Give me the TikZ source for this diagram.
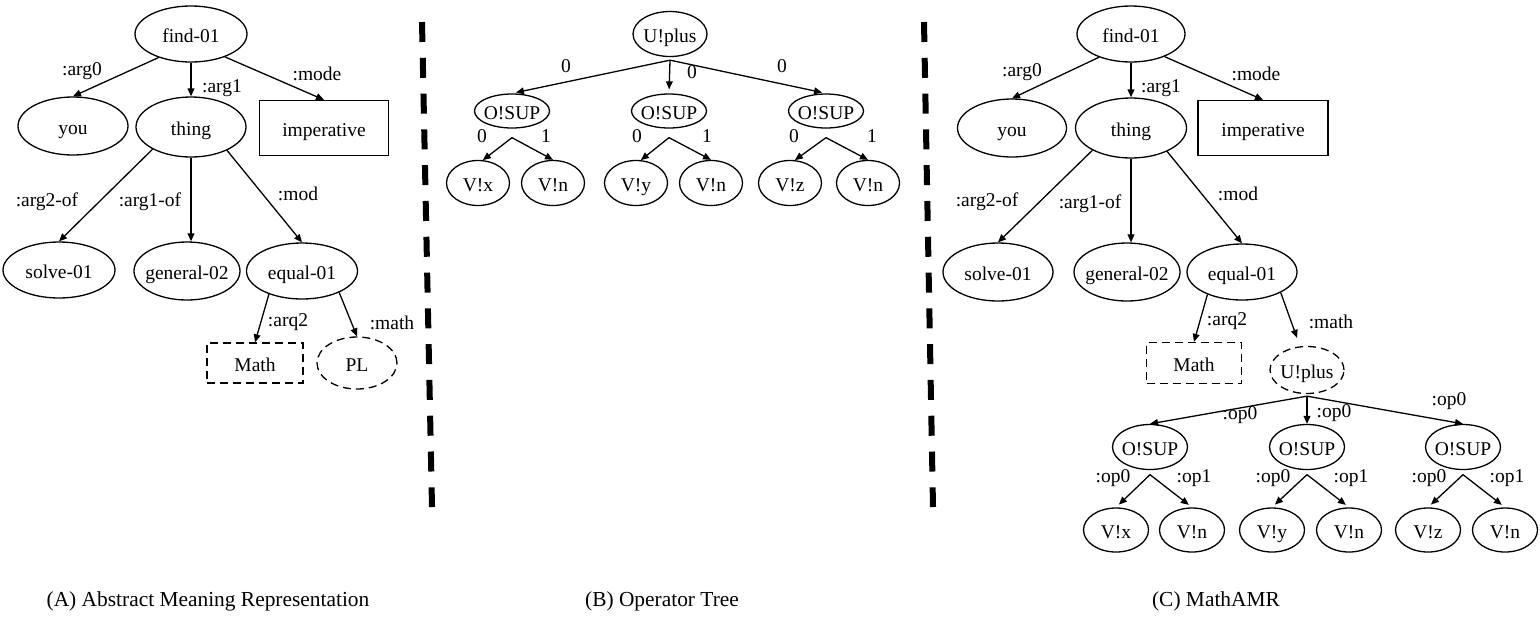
\documentclass[tikz,border=0pt]{standalone}
\usepackage{fontspec}
\setmainfont{Liberation Serif}
\usetikzlibrary{shapes.geometric,arrows.meta}
\newcommand{\ct}[1]{\makebox[0pt]{#1}}
\begin{document}
\begin{tikzpicture}[x=0.5pt,y=-0.5pt,
  every node/.style={font=\fontsize{9.75pt}{11pt}\selectfont},
  sz/.style 2 args={minimum width=#1*0.5pt, minimum height=#2*0.5pt},
  ell/.style={ellipse,draw,line width=0.65pt,inner sep=0pt,text height=8.4pt,text depth=0pt},
  rbox/.style={rectangle,draw,line width=0.65pt,inner sep=0pt,text height=8.4pt,text depth=0pt},
  dsh/.style={dash pattern=on 4pt off 2.5pt},
  lbl/.style={inner sep=0pt,text height=6.8pt,text depth=2pt},
  edge/.style={line width=0.65pt,-{Triangle[length=4pt,width=3.4pt]}},
  divider/.style={line width=3pt,dash pattern=on 10pt off 7.9pt},
  captxt/.style={font=\fontsize{10.7pt}{12pt}\selectfont, inner sep=0pt}]
\useasboundingbox (0,0) rectangle (1540,616);

% ---------------- (A) ----------------
\node[ell,sz={112}{56}] (find1) at (191,34) {\ct{find-01}};
\node[ell,sz={110}{58}] (you1) at (73,126) {\ct{you}};
\node[ell,sz={110}{60}] (thing1) at (191,127) {\ct{thing}};
\node[rbox,sz={129}{55}] (imp1) at (324,128) {imperative};
\node[ell,sz={112}{56}] (solve1) at (59,270) {\ct{solve-01}};
\node[ell,sz={106}{58}] (gen1) at (187,271) {\ct{general-02}};
\node[ell,sz={111}{56}] (eq1) at (302,271) {\ct{equal-01}};
\node[rbox,dsh,sz={96}{40}] (math1) at (255,363) {Math};
\node[ell,dsh,sz={80}{52}] (pl1) at (357,363) {\ct{PL}};

\draw[edge] (find1.216) -- (you1.north);
\draw[edge] (find1.south) -- (thing1.north);
\draw[edge] (find1.326) -- (imp1.north);
\draw[edge] (thing1.210) -- (solve1.north);
\draw[edge] (thing1.south) -- (thing1.south |- gen1.north);
\draw[edge] (thing1.327) -- (eq1.north);
\draw[edge] (eq1.215) -- (math1.north);
\draw[edge] (eq1.330) -- (pl1.north);

\node[lbl] (a1) at (82,71) {:arg0};
\node[lbl] (a2) at (222,88) {:arg1};
\node[lbl] (a3) at (317,76) {:mode};
\node[lbl] (a4) at (47,202) {:arg2-of};
\node[lbl] (a5) at (150,202) {:arg1-of};
\node[lbl] (a6) at (298,196) {:mod};
\node[lbl] (a7) at (288,322) {:arq2};
\node[lbl] (a8) at (392,325) {:math};

% ---------------- (B) ----------------
\node[ell,sz={74}{45}] (up) at (670,34) {\ct{U!plus}};
\node[ell,sz={75}{34}] (os1) at (512,111) {\ct{O!SUP}};
\node[ell,sz={75}{34}] (os2) at (669,111) {\ct{O!SUP}};
\node[ell,sz={75}{34}] (os3) at (826,111) {\ct{O!SUP}};
\node[ell,sz={63}{45}] (vx) at (478,183) {\ct{V!x}};
\node[ell,sz={63}{45}] (vn1) at (553,183) {\ct{V!n}};
\node[ell,sz={63}{45}] (vy) at (636,183) {\ct{V!y}};
\node[ell,sz={63}{45}] (vn2) at (711,183) {\ct{V!n}};
\node[ell,sz={63}{45}] (vz) at (790,183) {\ct{V!z}};
\node[ell,sz={63}{45}] (vn3) at (868,183) {\ct{V!n}};

\coordinate (upb) at ([yshift=-1.5pt]up.south);
\coordinate (os1b) at ([yshift=-4.5pt]os1.south);
\coordinate (os2b) at ([yshift=-4.5pt]os2.south);
\coordinate (os3b) at ([yshift=-4.5pt]os3.south);
\draw[edge,shorten >=2pt] (upb) -- (os1.north);
\draw[edge,shorten >=2pt] (upb) -- (os2.north);
\draw[edge,shorten >=2pt] (upb) -- (os3.north);
\draw[edge] (os1b) -- (vx.78);
\draw[edge] (os1b) -- (vn1.north);
\draw[edge] (os2b) -- (vy.78);
\draw[edge] (os2b) -- (vn2.north);
\draw[edge] (os3b) -- (vz.78);
\draw[edge] (os3b) -- (vn3.north);

\node[lbl] (b1) at (566,68) {0};
\node[lbl] (b2) at (692,74) {0};
\node[lbl] (b3) at (782,68) {0};
\node[lbl] (b4) at (482,138) {0};
\node[lbl] (b5) at (546,138) {1};
\node[lbl] (b6) at (637,138) {0};
\node[lbl] (b7) at (707,138) {1};
\node[lbl] (b8) at (794,138) {0};
\node[lbl] (b9) at (872,138) {1};

% ---------------- (C) ----------------
\node[ell,sz={108}{56}] (find2) at (1131,34) {\ct{find-01}};
\node[ell,sz={109}{58}] (you2) at (1012,128) {\ct{you}};
\node[ell,sz={111}{60}] (thing2) at (1131,128) {\ct{thing}};
\node[rbox,sz={130}{55}] (imp2) at (1263,128) {imperative};
\node[ell,sz={110}{58}] (solve2) at (998,272) {\ct{solve-01}};
\node[ell,sz={106}{58}] (gen2) at (1127,272) {\ct{general-02}};
\node[ell,sz={110}{56}] (eq2) at (1242,272) {\ct{equal-01}};
\node[rbox,dsh,sz={95}{41}] (math2) at (1194,363) {Math};
\node[ell,dsh,sz={74}{47}] (upl2) at (1307,370) {\ct{U!plus}};
\node[ell,sz={75}{45}] (ros1) at (1150,447) {\ct{O!SUP}};
\node[ell,sz={75}{45}] (ros2) at (1307,447) {\ct{O!SUP}};
\node[ell,sz={75}{45}] (ros3) at (1463,447) {\ct{O!SUP}};
\node[ell,sz={65}{44}] (rvx) at (1116,530) {\ct{V!x}};
\node[ell,sz={65}{44}] (rvn1) at (1192,530) {\ct{V!n}};
\node[ell,sz={65}{44}] (rvy) at (1272,530) {\ct{V!y}};
\node[ell,sz={65}{44}] (rvn2) at (1349,530) {\ct{V!n}};
\node[ell,sz={65}{44}] (rvz) at (1428,530) {\ct{V!z}};
\node[ell,sz={65}{44}] (rvn3) at (1505,530) {\ct{V!n}};

\draw[edge] (find2.216) -- (you2.north);
\draw[edge] (find2.south) -- (thing2.north);
\draw[edge] (find2.326) -- (imp2.north);
\draw[edge] (thing2.210) -- (solve2.north);
\draw[edge] (thing2.south) -- (thing2.south |- gen2.north);
\draw[edge] (thing2.327) -- (eq2.north);
\draw[edge] (eq2.213) -- (math2.north);
\draw[edge] (eq2.332) -- ([xshift=-5pt,yshift=4pt]upl2.north);

\coordinate (upl2b) at ([yshift=-1pt]upl2.south);
\coordinate (ros1b) at ([yshift=-2.25pt]ros1.south);
\coordinate (ros2b) at ([yshift=-2.25pt]ros2.south);
\coordinate (ros3b) at ([yshift=-2.25pt]ros3.south);
\draw[edge] (upl2b) -- (ros1.north);
\draw[edge] (upl2b) -- (ros2.north);
\draw[edge] (upl2b) -- (ros3.north);
\draw[edge,shorten >=2pt] (ros1b) -- (rvx.north);
\draw[edge,shorten >=2pt] (ros1b) -- (rvn1.north);
\draw[edge,shorten >=2pt] (ros2b) -- (rvy.north);
\draw[edge,shorten >=2pt] (ros2b) -- (rvn2.north);
\draw[edge,shorten >=2pt] (ros3b) -- (rvz.north);
\draw[edge,shorten >=2pt] (ros3b) -- (rvn3.north);

\node[lbl] (c1) at (1022,72) {:arg0};
\node[lbl] (c2) at (1161,88) {:arg1};
\node[lbl] (c3) at (1256,76) {:mode};
\node[lbl] (c4) at (987,202) {:arg2-of};
\node[lbl] (c5) at (1090,204) {:arg1-of};
\node[lbl] (c6) at (1238,196) {:mod};
\node[lbl] (c7) at (1227,321) {:arq2};
\node[lbl] (c8) at (1331,324) {:math};
\node[lbl] (c9) at (1240,415) {:op0};
\node[lbl] (c10) at (1334,413) {:op0};
\node[lbl] (c11) at (1449,401) {:op0};
\node[lbl] (c12) at (1113,478) {:op0};
\node[lbl] (c13) at (1194,478) {:op1};
\node[lbl] (c14) at (1273,478) {:op0};
\node[lbl] (c15) at (1351,478) {:op1};
\node[lbl] (c16) at (1429,478) {:op0};
\node[lbl] (c17) at (1507,478) {:op1};

% ---------------- dividers ----------------
\draw[divider] (422,22) -- (432,507);
\draw[divider] (924,22) -- (933,507);

% ---------------- captions ----------------
\node[captxt] (capA) at (208,601) {(A) Abstract Meaning Representation};
\node[captxt] (capB) at (662,601) {(B) Operator Tree};
\node[captxt] (capC) at (1216,601) {(C) MathAMR};
\end{tikzpicture}
\end{document}
